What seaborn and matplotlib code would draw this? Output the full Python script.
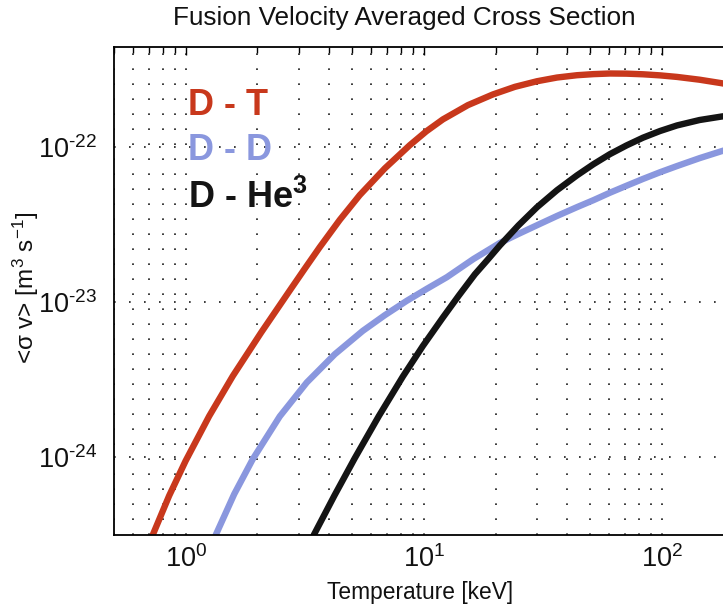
import numpy as np
import pandas as pd
import matplotlib
matplotlib.use("Agg")
import matplotlib.pyplot as plt
import seaborn as sns
from matplotlib.ticker import LogLocator, NullLocator, NullFormatter

# ---- values (T in keV, log10 of <sigma v> in m^3/s) ----
dt_T = [0.727, 0.852, 1.0, 1.255, 1.576, 2.076, 2.735, 3.162, 3.656, 4.436, 5.383, 6.857,
        8.733, 10.24, 12.02, 15.31, 19.50, 24.11, 29.84, 36.22, 43.96, 51.55, 60.49, 70.96,
        83.22, 98.1, 115.6, 143.8, 178.6, 200.0]
dt_log_sv = [-24.503, -24.250, -24.024, -23.736, -23.478, -23.196, -22.926, -22.785, -22.646,
             -22.470, -22.310, -22.138, -21.988, -21.899, -21.822, -21.730, -21.661, -21.612,
             -21.576, -21.552, -21.537, -21.530, -21.526, -21.527, -21.531, -21.538, -21.548,
             -21.566, -21.589, -21.604]

dd_T = [1.337, 1.599, 1.912, 2.483, 3.224, 4.227, 5.543, 6.857, 8.484, 10.29, 12.49, 16.14,
        20.86, 24.95, 29.84, 36.22, 43.96, 51.55, 60.45, 70.95, 83.22, 98.1, 115.6, 143.8,
        178.7, 200.0]
dd_log_sv = [-24.503, -24.239, -24.014, -23.738, -23.519, -23.337, -23.186, -23.085, -22.992,
             -22.915, -22.840, -22.723, -22.619, -22.561, -22.505, -22.445, -22.388, -22.343,
             -22.295, -22.250, -22.206, -22.163, -22.123, -22.072, -22.026, -22.004]

dhe_T = [3.45, 4.207, 5.13, 6.47, 8.16, 9.90, 12.02, 14.03, 16.38, 18.49, 20.86, 24.95, 29.84,
         36.22, 43.96, 51.55, 60.45, 70.95, 83.22, 98.1, 115.6, 143.8, 178.7, 200.0]
dhe_log_sv = [-24.503, -24.250, -24.007, -23.736, -23.481, -23.284, -23.100, -22.958, -22.821,
              -22.729, -22.635, -22.506, -22.389, -22.279, -22.183, -22.111, -22.046, -21.990,
              -21.940, -21.897, -21.861, -21.826, -21.803, -21.795]

series_names = ["D - T", "D - D", "D - He$^3$"]
series_colors = ["#C8381C", "#8A97DE", "#141414"]

x_ticks = [1, 10, 100]
y_ticks = [1e-24, 1e-23, 1e-22]

sns.set_style("white")
plt.rcParams["font.family"] = ["Liberation Sans", "DejaVu Sans"]
plt.rcParams["mathtext.fontset"] = "custom"
plt.rcParams["mathtext.rm"] = "Liberation Sans"
plt.rcParams["mathtext.it"] = "Liberation Sans:italic"
plt.rcParams["mathtext.bf"] = "Liberation Sans:bold"
plt.rcParams["mathtext.default"] = "regular"
plt.rcParams["text.color"] = "#111111"
plt.rcParams["axes.labelcolor"] = "#111111"
plt.rcParams["xtick.color"] = "#111111"
plt.rcParams["ytick.color"] = "#111111"

W, H = 723, 611
fig = plt.figure(figsize=(W / 100, H / 100), dpi=100)
left_px, right_px, top_px, bot_px = 114, 733.7, 47, 535
ax = fig.add_axes([left_px / W, 1 - bot_px / H, (right_px - left_px) / W, (bot_px - top_px) / H])

frames = []
for name, T, lsv in [(series_names[0], dt_T, dt_log_sv),
                     (series_names[1], dd_T, dd_log_sv),
                     (series_names[2], dhe_T, dhe_log_sv)]:
    frames.append(pd.DataFrame({"T": T, "sv": 10.0 ** np.array(lsv), "reaction": name}))
df = pd.concat(frames, ignore_index=True)

for name, col in zip(series_names, series_colors):
    sub = df[df["reaction"] == name]
    sns.lineplot(data=sub, x="T", y="sv", ax=ax, color=col, linewidth=4.6,
                 estimator=None, sort=False, legend=False)

ax.set_xscale("log")
ax.set_yscale("log")
ax.set_xlim(0.5, 200)
ax.set_ylim(10 ** -24.503, 10 ** -21.355)

ax.xaxis.set_minor_locator(LogLocator(base=10, subs=np.arange(2, 10), numticks=10))
ax.xaxis.set_minor_formatter(NullFormatter())
ax.set_xticks(x_ticks)
ax.set_xticklabels([f"$10^{{{int(np.log10(v))}}}$" for v in x_ticks])
ax.set_yticks(y_ticks)
ax.set_yticklabels(["$10^{\u2010" + str(-int(np.log10(v))) + "}$" for v in y_ticks])
ax.yaxis.set_minor_locator(NullLocator())

ax.tick_params(axis="both", which="major", direction="in", length=6, width=1,
               labelsize=19.5, top=True, right=True, color="black")
ax.tick_params(axis="x", which="minor", direction="in", length=4, width=1, top=True,
               color="black")
ax.tick_params(axis="x", which="major", pad=7)
ax.tick_params(axis="y", which="major", pad=12)

ax.grid(True, which="major", axis="y", color="#1a1a1a", linestyle=(0, (1, 8)), linewidth=1.2)
ax.grid(True, which="both", axis="x", color="#1a1a1a", linestyle=(0, (1, 8)), linewidth=1.2)

for s in ax.spines.values():
    s.set_color("black")
    s.set_linewidth(1.3)

ax.set_title("Fusion Velocity Averaged Cross Section", fontsize=18.8, pad=15.5, x=0.468)
ax.set_xlabel("Temperature [keV]", fontsize=16.4)
ax.xaxis.set_label_coords(0.494, -0.094)
ax.set_ylabel("<σ v> [m$^3$ s$^{-1}$]", fontsize=17.5)
ax.yaxis.set_label_coords(-0.118, 0.506)

for name, col, yb in zip(series_names, series_colors, [0.8607, 0.7684, 0.670]):
    ax.text(0.1194, yb, name, transform=ax.transAxes, color=col, fontsize=26,
            fontweight="bold", ha="left", va="baseline")

fig.savefig("out.png", dpi=100)
